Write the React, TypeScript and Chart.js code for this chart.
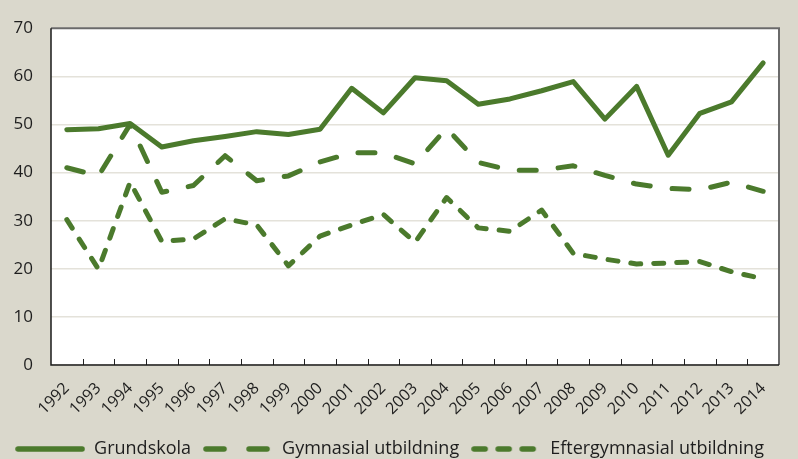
import React, { useEffect, useRef } from "react";
import { Chart, registerables } from "chart.js";

Chart.register(...registerables);

const years = ["1992","1993","1994","1995","1996","1997","1998","1999","2000","2001","2002","2003","2004","2005","2006","2007","2008","2009","2010","2011","2012","2013","2014"];
const grundskola = [48.9, 49.1, 50.2, 45.3, 46.6, 47.5, 48.5, 47.9, 49.0, 57.5, 52.4, 59.7, 59.1, 54.2, 55.3, 57.0, 58.9, 51.1, 57.9, 43.6, 52.3, 54.7, 62.8];
const gymnasial = [41.0, 39.3, 50.0, 35.9, 37.3, 43.5, 38.3, 39.3, 42.2, 44.1, 44.1, 41.8, 49.2, 42.1, 40.5, 40.5, 41.4, 39.4, 37.6, 36.7, 36.4, 38.0, 36.1];
const eftergymnasial = [30.2, 19.9, 38.0, 25.7, 26.2, 30.4, 29.1, 20.6, 26.8, 29.1, 31.3, 25.5, 34.8, 28.5, 27.8, 32.2, 23.2, 22.0, 21.0, 21.2, 21.5, 19.4, 17.9];
const seriesNames = ["Grundskola", "Gymnasial utbildning", "Eftergymnasial utbildning"];
const yTicks = [0, 10, 20, 30, 40, 50, 60, 70];

const GREEN = "#4b7a2c";
const BG = "#dad8cc";
const TEXT = "#1e1e1e";
const FONT = "'Open Sans', sans-serif";

function legendSample(dash: number[]) {
  const c = document.createElement("canvas");
  c.width = 70;
  c.height = 10;
  const ctx = c.getContext("2d")!;
  ctx.strokeStyle = GREEN;
  ctx.lineWidth = 5.5;
  ctx.lineCap = "round";
  ctx.setLineDash(dash);
  ctx.beginPath();
  ctx.moveTo(3, 5);
  ctx.lineTo(67, 5);
  ctx.stroke();
  return c;
}

const framePlugin = {
  id: "frame",
  beforeDraw(chart: any) {
    const { ctx, chartArea: a } = chart;
    ctx.save();
    ctx.fillStyle = BG;
    ctx.fillRect(0, 0, chart.width, chart.height);
    ctx.fillStyle = "#ffffff";
    ctx.fillRect(a.left, a.top, a.right - a.left, a.bottom - a.top);
    ctx.restore();
  },
  afterDatasetsDraw(chart: any) {
    const { ctx, chartArea: a } = chart;
    const xs = chart.scales.x;
    ctx.save();
    ctx.strokeStyle = "#222";
    ctx.lineWidth = 1;
    const n = years.length;
    for (let i = 1; i < n; i++) {
      const p = (xs.getPixelForTick(i - 1) + xs.getPixelForTick(i)) / 2;
      const px = Math.round(p) + 0.5;
      ctx.beginPath();
      ctx.moveTo(px, a.bottom);
      ctx.lineTo(px, a.bottom - 6);
      ctx.stroke();
    }
    ctx.strokeStyle = "#6a6a6a";
    ctx.lineWidth = 2;
    ctx.beginPath();
    ctx.moveTo(a.left, a.top);
    ctx.lineTo(a.right, a.top);
    ctx.lineTo(a.right, a.bottom);
    ctx.stroke();
    ctx.strokeStyle = "#1a1a1a";
    ctx.lineWidth = 1.5;
    ctx.beginPath();
    ctx.moveTo(a.left, a.top);
    ctx.lineTo(a.left, a.bottom);
    ctx.lineTo(a.right, a.bottom);
    ctx.stroke();
    ctx.restore();
  },
};

export default function App() {
  const ref = useRef<HTMLCanvasElement | null>(null);

  useEffect(() => {
    document.body.style.margin = "0";
    document.body.style.background = BG;
    const canvas = ref.current!;
    const samples = [legendSample([]), legendSample([18, 25]), legendSample([11, 13])];
    const dashes = [[], [17, 22], [10, 13]];
    const data = [grundskola, gymnasial, eftergymnasial];
    const chart = new Chart(canvas, {
      type: "line",
      data: {
        labels: years,
        datasets: data.map((d, i) => ({
          label: seriesNames[i],
          data: d,
          borderColor: GREEN,
          backgroundColor: GREEN,
          borderWidth: 5,
          borderDash: dashes[i],
          borderCapStyle: "round",
          borderJoinStyle: "round",
          pointRadius: 0,
          pointHoverRadius: 0,
          pointStyle: samples[i] as any,
          tension: 0,
          fill: false,
        })),
      },
      options: {
        responsive: false,
        devicePixelRatio: 1,
        animation: false,
        layout: { padding: { left: 0, right: 19, top: 19, bottom: -9 } },
        plugins: {
          legend: {
            position: "bottom",
            labels: {
              usePointStyle: true,
              pointStyleWidth: 70,
              boxHeight: 10,
              padding: 12,
              color: TEXT,
              font: { family: FONT, size: 18 },
            },
          },
          tooltip: { enabled: false },
        },
        scales: {
          x: {
            offset: true,
            grid: { display: false, drawTicks: false },
            border: { display: false },
            ticks: {
              autoSkip: false,
              maxRotation: 45,
              minRotation: 45,
              padding: 14,
              color: TEXT,
              font: { family: FONT, size: 16 },
            },
            afterFit: (s: any) => { s.height = 63; },
          },
          y: {
            min: 0,
            max: 70,
            afterBuildTicks: (s: any) => { s.ticks = yTicks.map((v) => ({ value: v })); },
            grid: { color: "#e4e2da", lineWidth: 1.5, drawTicks: false },
            border: { display: false },
            ticks: {
              padding: 18,
              color: TEXT,
              font: { family: FONT, size: 17 },
            },
            afterFit: (s: any) => { s.width = 51; },
          },
        },
      },
      plugins: [framePlugin],
    });
    return () => chart.destroy();
  }, []);

  return (
    <div style={{ width: 798, height: 459, background: BG }}>
      <canvas ref={ref} width={798} height={459} style={{ display: "block", width: 798, height: 459 }} />
    </div>
  );
}
